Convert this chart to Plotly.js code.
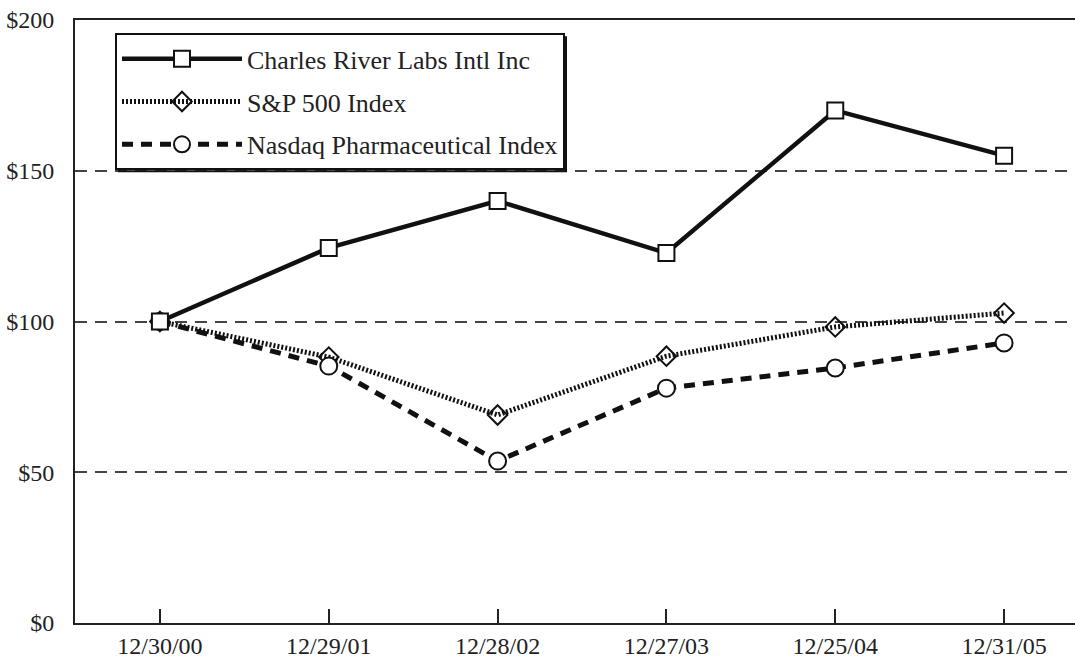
<!DOCTYPE html>
<html>
<head>
<meta charset="utf-8">
<script src="https://cdn.plot.ly/plotly-3.0.1.min.js"></script>
<style>html,body{margin:0;padding:0;background:#fff;}#chart{width:1075px;height:663px;}</style>
</head>
<body>
<div id="chart"></div>
<script>
const dates = ["12/30/00", "12/29/01", "12/28/02", "12/27/03", "12/25/04", "12/31/05"];
const seriesNames = ["Charles River Labs Intl Inc", "S&P 500 Index", "Nasdaq Pharmaceutical Index"];
const charlesRiver = [100, 124.4, 140, 122.7, 170, 155];
const sp500 = [100, 88.2, 69, 88.5, 98.2, 102.8];
const nasdaqPharma = [100, 85.2, 53.7, 77.9, 84.6, 92.9];
const yTicks = [0, 50, 100, 150, 200];
const yTickText = ["$0", "$50", "$100", "$150", "$200"];

const fontFam = '"Liberation Serif", "Times New Roman", serif';

const traces = [
  {
    x: dates, y: sp500, name: seriesNames[1], type: 'scatter', mode: 'lines+markers',
    line: {color: '#111', width: 5, dash: '2px,2px'},
    marker: {symbol: 'diamond-open', size: 15, color: '#111', line: {width: 2, color: '#111'}},
    legendgroup: 'b', legendrank: 2
  },
  {
    x: dates, y: nasdaqPharma, name: seriesNames[2], type: 'scatter', mode: 'lines+markers',
    line: {color: '#111', width: 5, dash: '11px,8px'},
    marker: {symbol: 'circle', size: 17, color: '#fff', line: {width: 2, color: '#111'}},
    legendgroup: 'c', legendrank: 3
  },
  {
    x: dates, y: charlesRiver, name: seriesNames[0], type: 'scatter', mode: 'lines+markers',
    line: {color: '#111', width: 4.5},
    marker: {symbol: 'square', size: 16, color: '#fff', line: {width: 2, color: '#111'}},
    legendgroup: 'a', legendrank: 1
  }
];

const layout = {
  width: 1075, height: 663,
  margin: {l: 75, r: 0, t: 20, b: 40},
  paper_bgcolor: '#fff', plot_bgcolor: '#fff',
  font: {family: fontFam, size: 24, color: '#222'},
  showlegend: true,
  legend: {
    x: 0.04, y: 0.978, xanchor: 'left', yanchor: 'top',
    bgcolor: '#fff', bordercolor: '#111', borderwidth: 2,
    font: {family: fontFam, size: 26, color: '#222'},
    itemwidth: 120, tracegroupgap: 6, traceorder: 'grouped'
  },
  xaxis: {
    type: 'category', range: [-0.503, 5.42],
    showgrid: false, zeroline: false,
    showline: true, linecolor: '#222', linewidth: 2, mirror: true,
    ticks: 'inside', ticklen: 14, tickwidth: 2, tickcolor: '#222',
    tickfont: {family: fontFam, size: 24, color: '#222'}
  },
  yaxis: {
    range: [0, 200], tickvals: yTicks, ticktext: yTickText,
    showgrid: true, gridcolor: '#444', gridwidth: 2, griddash: '12px,8px',
    zeroline: false, showline: true, linecolor: '#222', linewidth: 2,
    ticks: '', ticklabelstandoff: 14,
    tickfont: {family: fontFam, size: 24, color: '#222'}
  }
};

Plotly.newPlot('chart', traces, layout, {displayModeBar: false, staticPlot: true}).then(function (gd) {
  // drop shadow on the legend box (bottom and right edges)
  const bg = gd.querySelector('.legend .bg');
  const fl = gd._fullLayout;
  if (!bg) return;
  const r = bg.getBoundingClientRect();
  const c = gd.getBoundingClientRect();
  const toX = px => (px - c.left - fl._size.l) / fl._size.w;
  const toY = py => 1 - (py - c.top - fl._size.t) / fl._size.h;
  const left = toX(r.left + 3), right = toX(r.right + 2);
  const top = toY(r.top + 3), bottom = toY(r.bottom + 2);
  return Plotly.relayout(gd, {shapes: [{
    type: 'rect', xref: 'paper', yref: 'paper', layer: 'above',
    x0: left, x1: right, y0: bottom, y1: top,
    fillcolor: 'rgba(0,0,0,0)', line: {color: '#111', width: 2}
  }]});
});
</script>
</body>
</html>
